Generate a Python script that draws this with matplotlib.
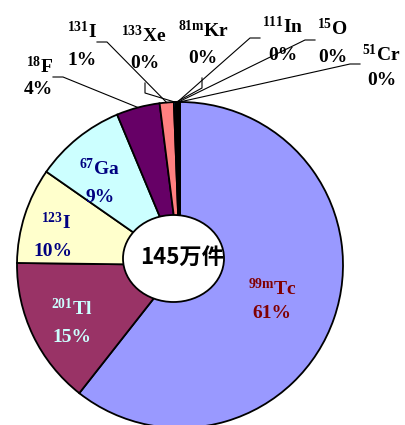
import matplotlib.pyplot as plt
import numpy as np
from matplotlib.patches import Ellipse

plt.rcParams['mathtext.fontset'] = 'custom'
plt.rcParams['mathtext.rm'] = 'Liberation Serif:bold'
plt.rcParams['mathtext.it'] = 'Liberation Serif:bold'
plt.rcParams['mathtext.bf'] = 'Liberation Serif:bold'

# 核種別の検査件数の割合 (%)
nuclides = ['99mTc', '201Tl', '123I', '67Ga', '18F', '131I', '133Xe', '81mKr', '111In', '15O', '51Cr']
mass_numbers = ['99m', '201', '123', '67', '18', '131', '133', '81m', '111', '15', '51']
symbols = ['Tc', 'Tl', 'I', 'Ga', 'F', 'I', 'Xe', 'Kr', 'In', 'O', 'Cr']
shares = [60.6, 14.6, 9.5, 9.0, 4.3, 1.4, 0.2, 0.1, 0.1, 0.1, 0.1]
total_text = '145万件'

colors = ['#9999FF', '#993366', '#FFFFCC', '#CCFFFF', '#660066', '#FF8080',
          '#0066CC', '#CCCCFF', '#000080', '#FF00FF', '#FFFF00']

W, H = 406, 425
fig = plt.figure(figsize=(W / 100, H / 100), dpi=100)
ax = fig.add_axes([0, 0, 1, 1])

cx, cy, r = 180, H - 265, 163
wedges, _ = ax.pie(shares, colors=colors, startangle=90, counterclock=False,
                   center=(cx, cy), radius=r, frame=True,
                   wedgeprops=dict(edgecolor='black', linewidth=1.3))
ax.set_xlim(0, W)
ax.set_ylim(0, H)
ax.set_aspect('equal')
ax.axis('off')


def label(i):
    return '$^{%s}$%s' % (mass_numbers[i], symbols[i])


def pct(i):
    return '%d%%' % round(shares[i])


serif = dict(family='Liberation Serif', weight='bold', fontsize=14,
             ha='center', va='center')

# ラベルを扇形の内側に置く核種
inside = {0: ((272, 288), (272, 314), '#800000'),
          1: ((72, 309), (72, 338), '#CCFFFF'),
          2: ((56, 222), (53, 252), '#000080'),
          3: ((99, 168), (100, 197), '#000080')}
for i, (p1, p2, c) in inside.items():
    ax.text(p1[0], H - p1[1], label(i), color=c, **serif)
    ax.text(p2[0], H - p2[1], pct(i), color=c, **serif)

# 外側ラベル: (名前位置, % 位置, 引出線の折れ点)
outside = {4: ((40, 66), (38, 89), [(53, 77), (63, 77)]),
           5: ((82, 31), (82, 60), [(97, 42), (107, 42)]),
           6: ((144, 35), (145, 63), [(145, 83), (145, 93)]),
           7: ((203, 30), (203, 58), [(202, 78), (202, 88)]),
           8: ((283, 26), (283, 55), [(260, 38), (250, 38)]),
           9: ((332, 28), (333, 57), [(315, 40), (305, 40)]),
           10: ((381, 54), (382, 80), [(360, 64), (350, 64)])}
for i, (p1, p2, elbow) in outside.items():
    ax.text(p1[0], H - p1[1], label(i), color='black', **serif)
    ax.text(p2[0], H - p2[1], pct(i), color='black', **serif)
    w = wedges[i]
    mid = np.deg2rad((w.theta1 + w.theta2) / 2)
    end = (cx + r * np.cos(mid), cy + r * np.sin(mid))
    xs = [p[0] for p in elbow] + [end[0]]
    ys = [H - p[1] for p in elbow] + [end[1]]
    ax.plot(xs, ys, color='black', linewidth=0.8, zorder=3)

# 中央の総件数
ax.add_patch(Ellipse((173.5, H - 258.5), 101, 87, facecolor='white',
                     edgecolor='black', linewidth=1.3, zorder=4))
ax.text(182, H - 257, total_text, family='Noto Sans CJK SC', weight='bold',
        fontsize=16, ha='center', va='center', zorder=5)

fig.savefig('out.png', dpi=100)
